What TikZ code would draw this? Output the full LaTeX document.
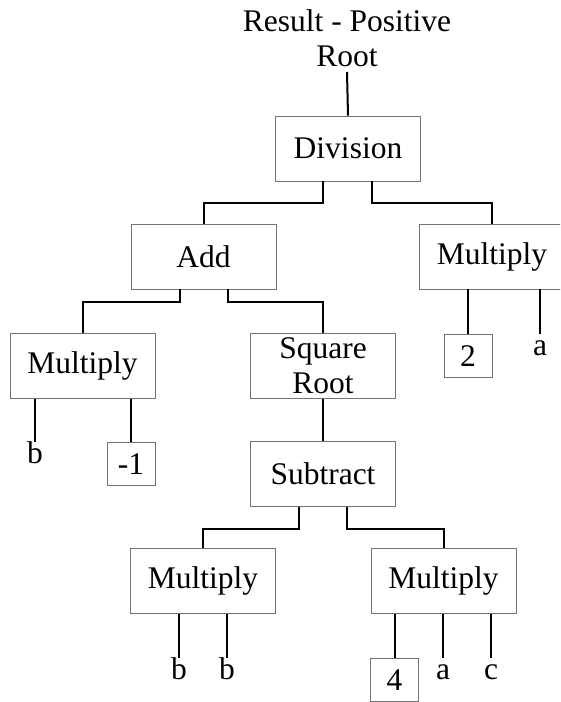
\documentclass[tikz,border=0pt]{standalone}
\usepackage{fontspec}
\setmainfont{Liberation Serif}
\begin{document}
\begin{tikzpicture}[x=1pt,y=-1pt,
  every node/.style={font=\fontsize{31.5}{35}\selectfont},
  opbox/.style={draw=black!55,line width=0.8pt,minimum width=145pt,minimum height=65pt,
    inner sep=0pt,align=center},
  numbox/.style={draw=black!55,line width=0.8pt,minimum width=48pt,minimum height=43pt,
    inner sep=0pt,anchor=north},
  leaf/.style={inner sep=0pt,text height=21pt,text depth=0pt,anchor=north},
  link/.style={draw=black,line width=2pt}]
\useasboundingbox (0,0) rectangle (560,702);
\clip (0,0) rectangle (560,702);

% title
\node[inner sep=0pt,inner ysep=5pt,anchor=south,align=center] (title) at (347,72)
  {Result - Positive\\Root};

% operator boxes
\node[opbox] (div)  at (348,148.5) {Division};
\node[opbox] (add)  at (203.5,256.5) {Add};
\node[opbox] (mulR) at (492,256.5) {Multiply};
\node[opbox] (mulL) at (82.5,366) {Multiply};
\node[opbox] (sqrt) at (323,366) {Square\\Root};
\node[opbox] (sub)  at (323,474) {Subtract};
\node[opbox] (mulBL) at (203,581) {Multiply};
\node[opbox] (mulBR) at (443.5,581) {Multiply};

% operands
\node[leaf]   (b1) at (35,442) {b};
\node[numbox] (m1) at (131,442) {-1};
\node[numbox] (two) at (468,334) {2};
\node[leaf]   (a1) at (540,334) {a};
\node[leaf]   (b2) at (179,658) {b};
\node[leaf]   (b3) at (227,658) {b};
\node[numbox] (four) at (394.5,658) {4};
\node[leaf]   (a2) at (443,658) {a};
\node[leaf]   (c1) at (491,658) {c};

% tree links
\draw[link] (title.south) -- (div.north);
\draw[link] ([xshift=-25pt]div.south) -- ++(0,22) -| (add.north);
\draw[link] ([xshift=24pt]div.south) -- ++(0,22) -| (mulR.north);
\draw[link] ([xshift=-23.5pt]add.south) -- ++(0,13) -| (mulL.north);
\draw[link] ([xshift=24.5pt]add.south) -- ++(0,13) -| (sqrt.north);
\draw[link] (sqrt.south) -- (sub.north);
\draw[link] ([xshift=-24pt]sub.south) -- ++(0,22) -| (mulBL.north);
\draw[link] ([xshift=24pt]sub.south) -- ++(0,22) -| (mulBR.north);

% operand links
\foreach \p/\c in {mulL/b1, mulL/m1, mulR/two, mulR/a1,
                   mulBL/b2, mulBL/b3, mulBR/four, mulBR/a2, mulBR/c1}
  \draw[link] (\p.south -| \c.north) -- (\c.north);
\end{tikzpicture}
\end{document}
